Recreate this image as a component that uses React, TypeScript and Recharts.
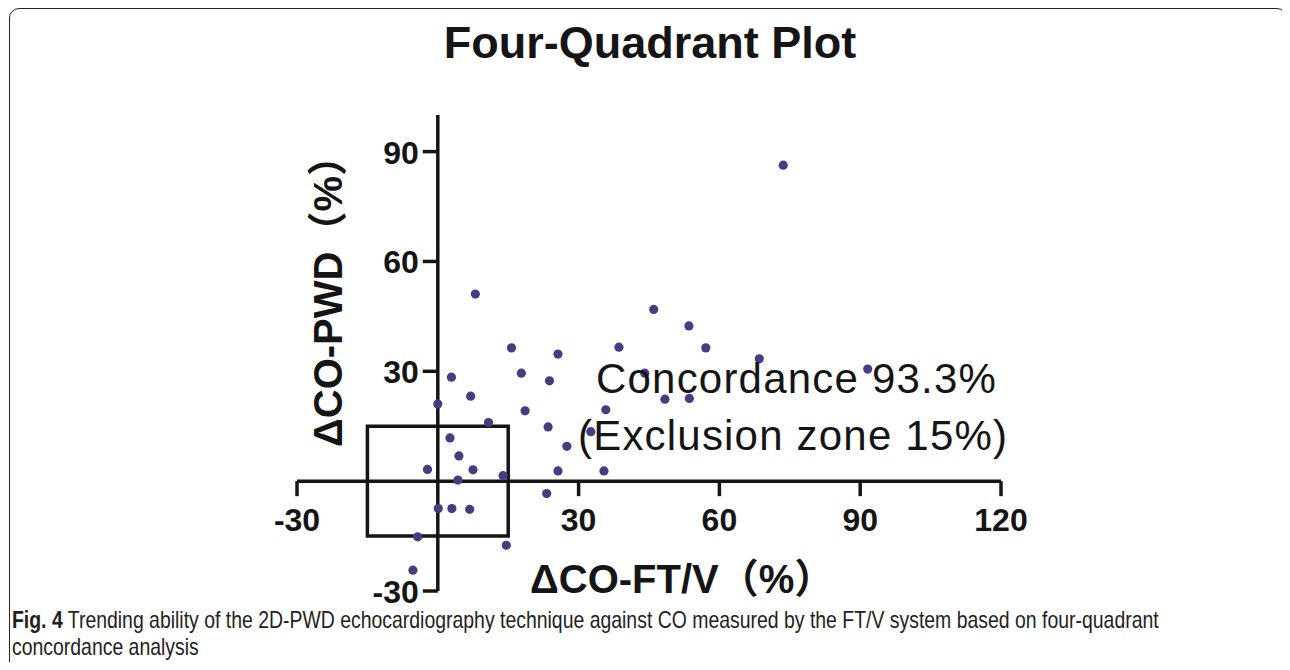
import React from "react";
import {
  ScatterChart,
  Scatter,
  XAxis,
  YAxis,
  ReferenceLine,
  ReferenceArea,
  ReferenceDot,
} from "recharts";

// ΔCO-FT/V (%) values
const deltaFTV = [
  -5.3, -4.3, -2.2, 0.0, 0.1, 2.6, 2.9, 3.0, 4.3, 4.5, 6.8, 7.0, 7.5, 8.0,
  10.8, 13.9, 14.6, 15.7, 17.8, 18.6, 23.2, 23.5, 23.8, 25.6, 25.6, 27.5,
  32.6, 35.4, 35.8, 38.6, 44.1, 46.0, 48.4, 53.5, 53.6, 57.1, 68.5, 73.6, 91.6,
];
// ΔCO-PWD (%) values
const deltaPWD = [
  -24.3, -15.2, 3.2, 21.1, -7.5, 11.8, 28.4, -7.5, 0.3, 6.9, -7.7, 23.2, 3.1,
  51.1, 16.0, 1.5, -17.5, 36.4, 29.5, 19.2, -3.4, 14.8, 27.4, 34.7, 2.8, 9.5,
  13.5, 2.8, 19.5, 36.6, 29.5, 46.9, 22.4, 42.4, 22.6, 36.4, 33.4, 86.3, 30.6,
];

const xTicks = [-30, 30, 60, 90, 120];
const yTicks = [-30, 30, 60, 90];
const xDomain: [number, number] = [-30, 120];
const yDomain: [number, number] = [-30, 100];
const exclusionZone = 15;

const title = "Four-Quadrant Plot";
const xLabel = "ΔCO-FT/V（%）";
const yLabel = "ΔCO-PWD（%）";
const noteLine1 = "Concordance 93.3%";
const noteLine2 = "(Exclusion zone 15%)";
const captionBold = "Fig. 4";
const captionLine1 =
  " Trending ability of the 2D-PWD echocardiography technique against CO measured by the FT/V system based on four-quadrant";
const captionLine2 = "concordance analysis";

const data = deltaFTV.map((x, i) => ({ x, y: deltaPWD[i] }));

const INK = "#151515";
const DOT = "#4b3a80";
const AXIS_W = 3.5;
const FONT = "'Liberation Sans', Arial, 'Noto Sans CJK SC', sans-serif";
const CAP_SCALE = 0.845;

const XTickMark = (label: number) => (props: any) => {
  const { cx, cy } = props;
  return (
    <g>
      <line x1={cx} y1={cy} x2={cx} y2={cy + 15} stroke={INK} strokeWidth={AXIS_W} />
      <text
        x={cx}
        y={cy + 50}
        textAnchor="middle"
        fontFamily={FONT}
        fontWeight="bold"
        fontSize={32}
        fill={INK}
      >
        {label}
      </text>
    </g>
  );
};

const YTickMark = (label: number) => (props: any) => {
  const { cx, cy } = props;
  return (
    <g>
      <line x1={cx - 15} y1={cy} x2={cx} y2={cy} stroke={INK} strokeWidth={AXIS_W} />
      <text
        x={cx - 19}
        y={cy + 12}
        textAnchor="end"
        fontFamily={FONT}
        fontWeight="bold"
        fontSize={32}
        fill={INK}
      >
        {label}
      </text>
    </g>
  );
};

const Dot = (props: any) => {
  const { cx, cy } = props;
  return <circle cx={cx} cy={cy} r={4.6} fill={DOT} />;
};

export default function App() {
  return (
    <div
      style={{
        position: "relative",
        width: 1290,
        height: 670,
        margin: -8,
        background: "#ffffff",
        overflow: "hidden",
      }}
    >
      <div
        style={{
          position: "absolute",
          left: 9,
          top: 8,
          width: 1276,
          height: 700,
          border: "1.5px solid #222",
          borderRadius: 10,
        }}
      />
      <div style={{ position: "absolute", left: 0, top: 0 }}>
        <ScatterChart
          width={1290}
          height={670}
          margin={{ top: 115, right: 289, bottom: 79, left: 297 }}
        >
          <XAxis type="number" dataKey="x" domain={xDomain} hide allowDataOverflow />
          <YAxis type="number" dataKey="y" domain={yDomain} hide allowDataOverflow />
          <ReferenceArea
            x1={-exclusionZone}
            x2={exclusionZone}
            y1={-exclusionZone}
            y2={exclusionZone}
            fill="none"
            fillOpacity={0}
            stroke={INK}
            strokeWidth={AXIS_W}
            ifOverflow="visible"
          />
          <ReferenceLine y={0} stroke={INK} strokeWidth={AXIS_W} ifOverflow="visible" />
          <ReferenceLine x={0} stroke={INK} strokeWidth={AXIS_W} ifOverflow="visible" />
          {xTicks.map((t) => (
            <ReferenceDot key={"x" + t} x={t} y={0} r={0} ifOverflow="visible" shape={XTickMark(t)} />
          ))}
          {yTicks.map((t) => (
            <ReferenceDot key={"y" + t} x={0} y={t} r={0} ifOverflow="visible" shape={YTickMark(t)} />
          ))}
          <Scatter data={data} fill={DOT} shape={Dot} isAnimationActive={false} />
        </ScatterChart>
      </div>
      <svg
        width={1290}
        height={670}
        style={{ position: "absolute", left: 0, top: 0, pointerEvents: "none" }}
      >
        <text x={650} y={58} textAnchor="middle" fontFamily={FONT} fontWeight="bold" fontSize={45} fill={INK}>
          {title}
        </text>
        <text
          transform="translate(342,447) rotate(-90)"
          fontFamily={FONT}
          fontWeight="bold"
          fontSize={40}
          fill={INK}
        >
          {yLabel}
        </text>
        <text x={530} y={593} fontFamily={FONT} fontWeight="bold" fontSize={40} fill={INK}>
          {xLabel}
        </text>
        <text x={596} y={393} fontFamily={FONT} fontSize={42} letterSpacing={1.2} fill={INK}>
          {noteLine1}
        </text>
        <text x={578} y={450} fontFamily={FONT} fontSize={42} letterSpacing={1.2} fill={INK}>
          {noteLine2}
        </text>
        <g transform={`scale(${CAP_SCALE},1)`}>
          <text
            x={12 / CAP_SCALE}
            y={628}
            fontFamily="'Liberation Sans', sans-serif"
            fontSize={23}
            fill="#231f20"
          >
            <tspan fontWeight="bold">{captionBold}</tspan>
            <tspan>{captionLine1}</tspan>
          </text>
          <text
            x={12 / CAP_SCALE}
            y={655}
            fontFamily="'Liberation Sans', sans-serif"
            fontSize={23}
            fill="#231f20"
          >
            {captionLine2}
          </text>
        </g>
      </svg>
    </div>
  );
}
